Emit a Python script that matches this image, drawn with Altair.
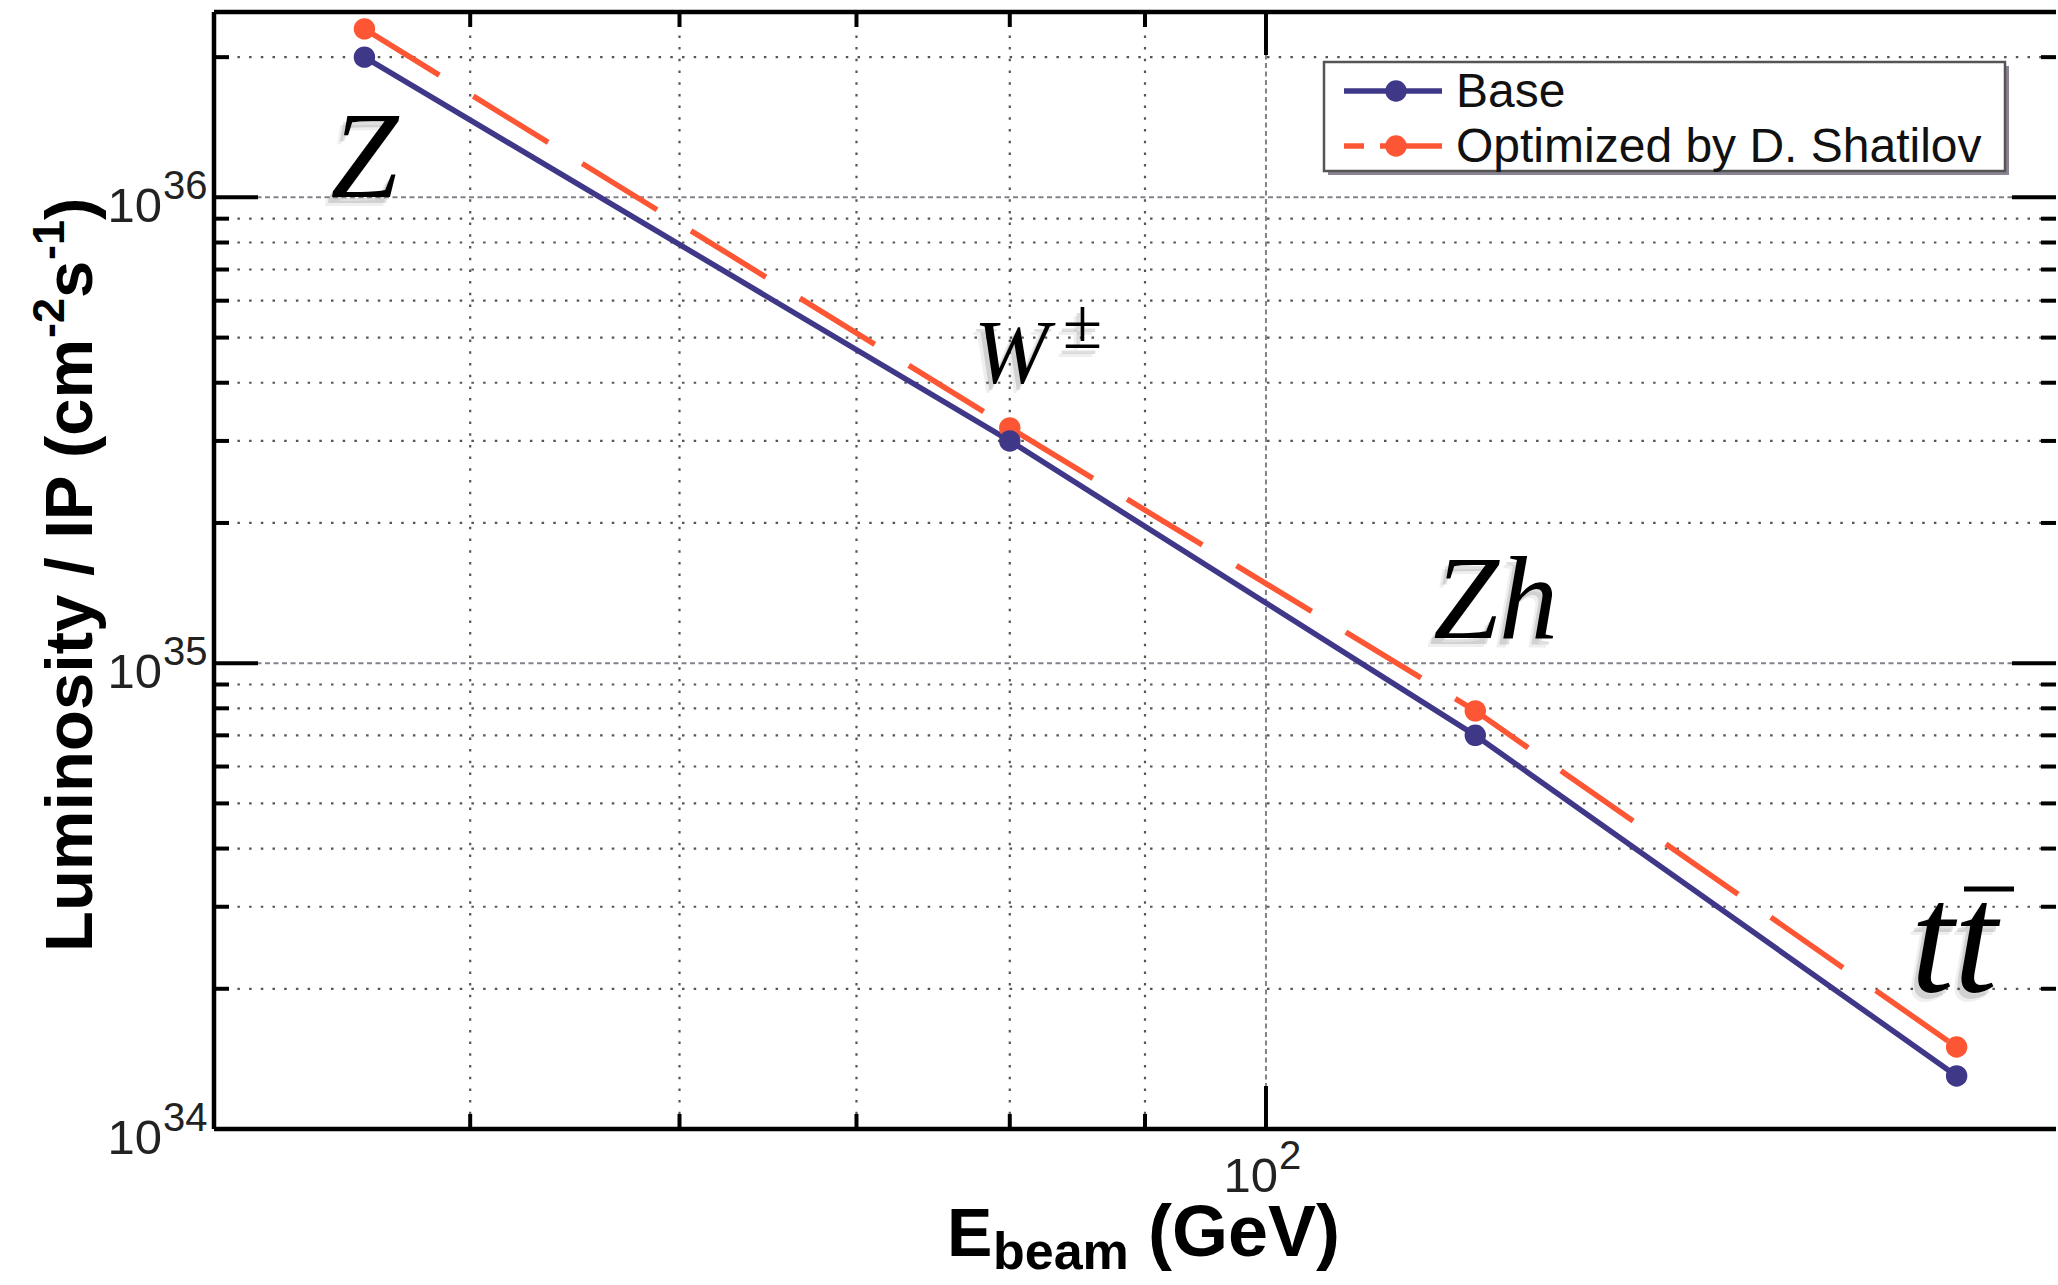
import altair as alt
import pandas as pd

# Beam energy (GeV) of the four operating points and luminosity per IP (cm^-2 s^-1)
energy = [45.6, 80.0, 120.0, 182.5]
lumi_base = [2.0e36, 3.0e35, 7.0e34, 1.3e34]
lumi_opt = [2.3e36, 3.2e35, 7.9e34, 1.5e34]
series_names = ["Base", "Optimized by D. Shatilov"]
series_colors = ["#3f3787", "#fd5634"]

# Log-axis decorations
y_major = [1e34, 1e35, 1e36]
y_major_exp = ["34", "35", "36"]
y_minor = [2e34, 3e34, 4e34, 5e34, 6e34, 7e34, 8e34, 9e34,
           2e35, 3e35, 4e35, 5e35, 6e35, 7e35, 8e35, 9e35, 2e36]
x_major = [100]
x_major_exp = ["2"]
x_minor = [50, 60, 70, 80, 90]

W, H = 1842, 1117
SANS = "Liberation Sans, Arial, Helvetica, sans-serif"
SERIF = "Liberation Serif, Times New Roman, serif"
INK = "#111111"
LW = 5.5
DOT = 460

xs = alt.Scale(type="log", domain=[40, 199], nice=False)
ys = alt.Scale(type="log", domain=[1e34, 2.5e36], nice=False)

base_df = pd.DataFrame({"E": energy, "L": lumi_base, "series": series_names[0]})
opt_df = pd.DataFrame({"E": energy, "L": lumi_opt, "series": series_names[1]})
ymaj_df = pd.DataFrame({"v": y_major, "exp": y_major_exp})
ymin_df = pd.DataFrame({"v": y_minor})
xmaj_df = pd.DataFrame({"v": x_major, "exp": x_major_exp})
xmin_df = pd.DataFrame({"v": x_minor})


def X(field="v"):
    return alt.X(f"{field}:Q", scale=xs, axis=None)


def Y(field="v"):
    return alt.Y(f"{field}:Q", scale=ys, axis=None)


layers = []

# grid: dotted minor lines, finely dashed decade lines
layers.append(alt.Chart(ymin_df).mark_rule(color="#555555", strokeWidth=2.2, strokeDash=[2.5, 9.2])
              .encode(y=Y(), x=alt.value(0), x2=alt.value(W)))
layers.append(alt.Chart(xmin_df).mark_rule(color="#555555", strokeWidth=2.2, strokeDash=[2.5, 9.2])
              .encode(x=X(), y=alt.value(0), y2=alt.value(H)))
layers.append(alt.Chart(ymaj_df).mark_rule(color="#85808a", strokeWidth=2, strokeDash=[5, 3.5])
              .encode(y=Y(), x=alt.value(0), x2=alt.value(W)))
layers.append(alt.Chart(xmaj_df).mark_rule(color="#85808a", strokeWidth=2, strokeDash=[5, 3.5])
              .encode(x=X(), y=alt.value(0), y2=alt.value(H)))

# data series
layers.append(alt.Chart(base_df).mark_line(color=series_colors[0], strokeWidth=LW)
              .encode(x=X("E"), y=Y("L")))
layers.append(alt.Chart(opt_df).mark_line(color=series_colors[1], strokeWidth=LW, strokeDash=[88, 40])
              .encode(x=X("E"), y=Y("L")))
layers.append(alt.Chart(opt_df).mark_circle(color=series_colors[1], size=DOT, opacity=1)
              .encode(x=X("E"), y=Y("L")))
layers.append(alt.Chart(base_df).mark_circle(color=series_colors[0], size=DOT, opacity=1)
              .encode(x=X("E"), y=Y("L")))

# process labels anchored on the base points (italic serif with a soft drop shadow)
label_df = base_df.assign(name=["Z", "W", "Zh", "tt"])


def process_label(i, text_props, shadow=True):
    row = label_df.iloc[[i]]
    out = []
    if shadow:
        for ox, oy, op in [(-7, 9, 0.06), (-4, 6, 0.12)]:
            props = dict(text_props)
            props["dx"] = props.get("dx", 0) + ox
            props["dy"] = props.get("dy", 0) + oy
            out.append(alt.Chart(row).mark_text(color="#000000", opacity=op, **props)
                       .encode(x=X("E"), y=Y("L")))
    out.append(alt.Chart(row).mark_text(color="#000000", **text_props)
               .encode(x=X("E"), y=Y("L")))
    return out


italic = dict(font=SERIF, fontStyle="italic", baseline="alphabetic")
layers += process_label(0, dict(text="Z", fontSize=122, align="center", dx=0, dy=140, **italic))
layers += process_label(1, dict(text="W", fontSize=90, align="left", dx=-36, dy=-58, **italic))
layers += process_label(1, dict(text="\u00b1", fontSize=72, align="left", dx=53, dy=-93,
                                font=SERIF, baseline="alphabetic"))
layers += process_label(2, dict(text="Zh", fontSize=118, align="left", dx=-42, dy=-97, **italic))
layers += process_label(3, dict(text="tt", fontSize=156, align="left", dx=-46, dy=-85, **italic))
# bar over the second t
layers.append(alt.Chart(label_df.iloc[[3]]).mark_rule(color="#000000", strokeWidth=5)
              .encode(x=alt.value(1750), x2=alt.value(1800), y=alt.value(877)))

# legend
LX0, LX1, LY0, LY1 = 1110, 1791, 50, 159
layers.append(alt.Chart(base_df.iloc[[0]]).mark_rect(color="#8c8492")
              .encode(x=alt.value(LX0 + 4), x2=alt.value(LX1 + 4), y=alt.value(LY0 + 4), y2=alt.value(LY1 + 4)))
layers.append(alt.Chart(base_df.iloc[[0]]).mark_rect(fill="white", stroke="#555555", strokeWidth=2.5)
              .encode(x=alt.value(LX0), x2=alt.value(LX1), y=alt.value(LY0), y2=alt.value(LY1)))
rows_y = [79, 134]
layers.append(alt.Chart(base_df.iloc[[0]]).mark_rule(color=series_colors[0], strokeWidth=LW)
              .encode(x=alt.value(1130), x2=alt.value(1228), y=alt.value(rows_y[0])))
layers.append(alt.Chart(opt_df.iloc[[0]]).mark_rule(color=series_colors[1], strokeWidth=LW)
              .encode(x=alt.value(1130), x2=alt.value(1150), y=alt.value(rows_y[1])))
layers.append(alt.Chart(opt_df.iloc[[0]]).mark_rule(color=series_colors[1], strokeWidth=LW)
              .encode(x=alt.value(1166), x2=alt.value(1228), y=alt.value(rows_y[1])))
for k, ry in enumerate(rows_y):
    layers.append(alt.Chart(pd.DataFrame({"series": [series_names[k]]}))
                  .mark_circle(color=series_colors[k], size=DOT, opacity=1)
                  .encode(x=alt.value(1182), y=alt.value(ry)))
    layers.append(alt.Chart(pd.DataFrame({"series": [series_names[k]]}))
                  .mark_text(font=SANS, fontSize=48, align="left", baseline="alphabetic", color=INK)
                  .encode(text="series:N", x=alt.value(1242), y=alt.value(ry + 16)))

# frame (top, left, bottom; the right edge runs off the page)
frame = dict(color="#000000", strokeWidth=4.5)
layers.append(alt.Chart(ymaj_df.iloc[[0]]).mark_rule(**frame)
              .encode(x=alt.value(0), x2=alt.value(W), y=alt.value(0)))
layers.append(alt.Chart(ymaj_df.iloc[[0]]).mark_rule(**frame)
              .encode(x=alt.value(0), x2=alt.value(W), y=alt.value(H)))
layers.append(alt.Chart(ymaj_df.iloc[[0]]).mark_rule(**frame)
              .encode(x=alt.value(0), y=alt.value(0), y2=alt.value(H)))

# inward ticks on all four sides
tick = dict(color="#000000", strokeWidth=4)
layers.append(alt.Chart(ymin_df).mark_rule(**tick).encode(y=Y(), x=alt.value(0), x2=alt.value(15)))
layers.append(alt.Chart(ymin_df).mark_rule(**tick).encode(y=Y(), x=alt.value(W - 15), x2=alt.value(W)))
layers.append(alt.Chart(ymaj_df).mark_rule(**tick).encode(y=Y(), x=alt.value(0), x2=alt.value(44)))
layers.append(alt.Chart(ymaj_df).mark_rule(**tick).encode(y=Y(), x=alt.value(W - 44), x2=alt.value(W)))
layers.append(alt.Chart(xmin_df).mark_rule(**tick).encode(x=X(), y=alt.value(H - 15), y2=alt.value(H)))
layers.append(alt.Chart(xmin_df).mark_rule(**tick).encode(x=X(), y=alt.value(0), y2=alt.value(15)))
layers.append(alt.Chart(xmaj_df).mark_rule(**tick).encode(x=X(), y=alt.value(H - 43), y2=alt.value(H)))
layers.append(alt.Chart(xmaj_df).mark_rule(**tick).encode(x=X(), y=alt.value(0), y2=alt.value(43)))

# tick labels 10^n
lab = dict(font=SANS, color="#222222", baseline="alphabetic")
layers.append(alt.Chart(ymaj_df).mark_text(text="10", fontSize=49, align="right", dy=25, **lab)
              .encode(y=Y(), x=alt.value(-52)))
layers.append(alt.Chart(ymaj_df).mark_text(fontSize=40, align="left", dy=2, **lab)
              .encode(y=Y(), x=alt.value(-51), text="exp:N"))
layers.append(alt.Chart(xmaj_df).mark_text(text="10", fontSize=49, align="right", dx=12, **lab)
              .encode(x=X(), y=alt.value(H + 63)))
layers.append(alt.Chart(xmaj_df).mark_text(fontSize=40, align="left", dx=13, **lab)
              .encode(x=X(), y=alt.value(H + 40), text="exp:N"))

# axis titles
bold = dict(font=SANS, fontWeight="bold", color="#000000", baseline="alphabetic", align="left")
one = ymaj_df.iloc[[0]]
layers.append(alt.Chart(one).mark_text(text="E", fontSize=68, **bold)
              .encode(x=alt.value(733), y=alt.value(H + 127)))
layers.append(alt.Chart(one).mark_text(text="beam", fontSize=52, **bold)
              .encode(x=alt.value(779), y=alt.value(H + 140)))
layers.append(alt.Chart(one).mark_text(text="(GeV)", fontSize=72, **bold)
              .encode(x=alt.value(934), y=alt.value(H + 127)))

# rotated y title with superscripts
ybase, ysup = -122, -150
pieces = [("Luminosity / IP (cm", 67, ybase, 940),
          ("-2", 45, ysup, 940 - 614),
          ("s", 67, ybase, 940 - 614 - 40),
          ("-1", 45, ysup, 940 - 614 - 40 - 38),
          (")", 67, ybase, 940 - 614 - 40 - 38 - 40)]
for txt, fs, px, py in pieces:
    layers.append(alt.Chart(one).mark_text(text=txt, fontSize=fs, angle=270, **bold)
                  .encode(x=alt.value(px), y=alt.value(py)))

chart = alt.layer(*layers).properties(
    width=W,
    height=H,
    padding={"left": 214, "top": 12, "right": 0, "bottom": 151},
    autosize=alt.AutoSizeParams(type="none"),
    background="white",
).configure_view(stroke=None)

chart.save("out.html", embed_options={"renderer": "svg", "actions": False})
